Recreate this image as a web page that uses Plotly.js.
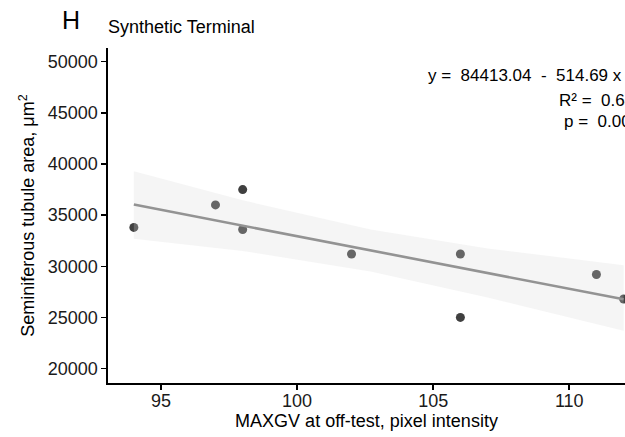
<!DOCTYPE html>
<html>
<head>
<meta charset="utf-8">
<script src="https://cdn.plot.ly/plotly-3.0.1.min.js"></script>
<style>html,body{margin:0;padding:0;background:#fff;}#chart{width:625px;height:437px;}</style>
</head>
<body>
<div id="chart"></div>
<script>
// Observations
const xVals = [94, 97, 98, 98, 102, 106, 106, 111, 112];
const yVals = [33800, 36000, 37500, 33600, 31200, 31200, 25000, 29200, 26800];
// Fitted regression (from the equation shown in the chart)
const fitIntercept = 84413.04;
const fitSlope = -514.69;
const fitX = [94, 112];
// Confidence band
const bandX = [94, 98, 102.7, 107, 112];
const bandUpper = [39300, 36450, 33600, 31750, 30100];
const bandLower = [32700, 31500, 29500, 26950, 23700];
// Tick labels
const xTicks = [95, 100, 105, 110];
const yTicks = [20000, 25000, 30000, 35000, 40000, 45000, 50000];
const statLines = ["y =\u00a0\u00a084413.04\u00a0\u00a0-\u00a0\u00a0514.69 x", "R² =\u00a0\u00a00.64", "p =\u00a0\u00a00.008"];

const fitY = fitX.map(x => fitIntercept + fitSlope * x);
const FONT = "Liberation Sans, Arial, sans-serif";

const traces = [
  {
    x: xVals, y: yVals, type: 'scatter', mode: 'markers',
    marker: {color: '#404040', size: 9, line: {width: 0}},
    hoverinfo: 'skip', showlegend: false
  },
  {
    x: bandX.concat(bandX.slice().reverse()),
    y: bandUpper.concat(bandLower.slice().reverse()),
    type: 'scatter', mode: 'lines', fill: 'toself',
    fillcolor: 'rgba(215,215,215,0.25)', line: {width: 0, color: 'rgba(0,0,0,0)'},
    hoverinfo: 'skip', showlegend: false
  },
  {
    x: fitX, y: fitY, type: 'scatter', mode: 'lines',
    line: {color: '#939393', width: 2.6},
    hoverinfo: 'skip', showlegend: false
  }
];

const L = 108, T = 48, W = 625, H = 437, B = 54;
const pw = W - L, ph = H - T - B;
function px2paperX(px){ return (px - L) / pw; }
function px2paperY(py){ return 1 - (py - T) / ph; }

const layout = {
  width: W, height: H,
  margin: {l: L, r: 0, t: T, b: B, pad: 0},
  paper_bgcolor: '#ffffff', plot_bgcolor: '#ffffff',
  font: {family: FONT, color: '#1a1a1a', size: 18},
  title: {
    text: 'Synthetic Terminal', xref: 'container', yref: 'container',
    x: 108 / W, xanchor: 'left', y: 1 - 27 / H, yanchor: 'middle',
    font: {family: FONT, size: 18, color: '#000'}
  },
  xaxis: {
    range: [93.05, 112.05], tickvals: xTicks, ticktext: xTicks.map(String),
    showgrid: false, zeroline: false, showline: true, linecolor: '#000', linewidth: 1.6,
    ticks: 'outside', ticklen: 5, tickwidth: 1.5, tickcolor: '#000', ticklabelstandoff: -4,
    tickfont: {family: FONT, size: 18, color: '#1a1a1a'},
    title: {text: 'MAXGV at off-test, pixel intensity', font: {family: FONT, size: 18, color: '#000'}, standoff: 2}
  },
  yaxis: {
    range: [18588, 51343], tickvals: yTicks, ticktext: yTicks.map(String),
    showgrid: false, zeroline: false, showline: true, linecolor: '#000', linewidth: 1.6,
    ticks: 'outside', ticklen: 5, tickwidth: 1.5, tickcolor: '#000',
    tickfont: {family: FONT, size: 18, color: '#1a1a1a'},
    title: {text: 'Seminiferous tubule area, μm<sup>2</sup>', font: {family: FONT, size: 18, color: '#000'}, standoff: 8}
  },
  annotations: [
    {text: 'H', xref: 'paper', yref: 'paper', x: px2paperX(60), y: px2paperY(20),
     xanchor: 'left', yanchor: 'middle', showarrow: false, font: {family: FONT, size: 25, color: '#000'}},
    {text: statLines[0], xref: 'paper', yref: 'paper', x: px2paperX(426), y: px2paperY(75),
     xanchor: 'left', yanchor: 'middle', showarrow: false, font: {family: FONT, size: 17, color: '#000'}},
    {text: statLines[1], xref: 'paper', yref: 'paper', x: px2paperX(557), y: px2paperY(100),
     xanchor: 'left', yanchor: 'middle', showarrow: false, font: {family: FONT, size: 17, color: '#000'}},
    {text: statLines[2], xref: 'paper', yref: 'paper', x: px2paperX(562), y: px2paperY(121),
     xanchor: 'left', yanchor: 'middle', showarrow: false, font: {family: FONT, size: 17, color: '#000'}}
  ],
  showlegend: false
};

Plotly.newPlot('chart', traces, layout, {displayModeBar: false, staticPlot: true});
</script>
</body>
</html>
